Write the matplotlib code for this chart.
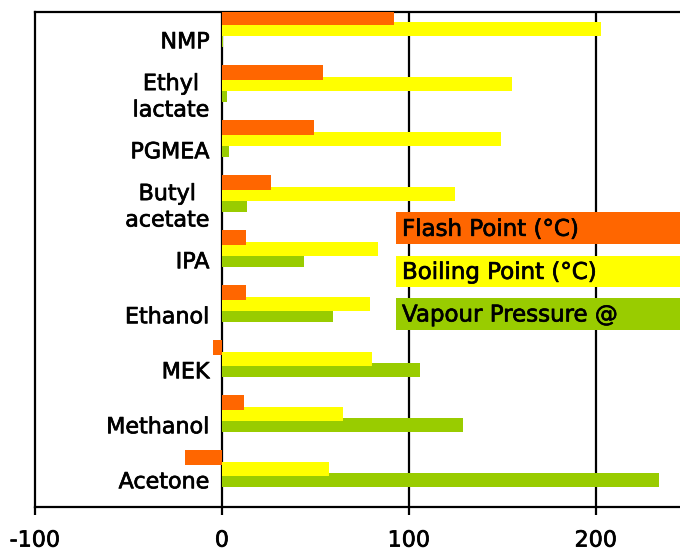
import numpy as np
import matplotlib
matplotlib.use('Agg')
import matplotlib.pyplot as plt
import matplotlib.patheffects as pe
from matplotlib.patches import Rectangle

# categories listed bottom to top (Excel order)
solvents = ['Acetone', 'Methanol', 'MEK', 'Ethanol', 'IPA',
            'Butyl\nacetate', 'PGMEA', 'Ethyl\nlactate', 'NMP']
flash_point = [-20, 12, -5, 13, 13, 26, 49, 54, 92]
boiling_point = [57.5, 65, 80.5, 79, 83.5, 124.5, 149, 155, 202.5]
vapour_pressure = [234, 129, 106, 59.5, 44, 13.5, 3.5, 2.5, 0.4]

series_names = ['Flash Point (\u00b0C)', 'Boiling Point (\u00b0C)', 'Vapour Pressure @']
colors = ['#FF6600', '#FFFF00', '#99CC00']

plt.rcParams['font.family'] = 'DejaVu Sans'
plt.rcParams['axes.unicode_minus'] = False

# slightly heavier strokes, the original font is a bit darker than DejaVu regular
heavy = [pe.withStroke(linewidth=0.5, foreground='black')]

fig = plt.figure(figsize=(6.8, 5.51), dpi=100)
ax = fig.add_axes([35 / 680, 44 / 551, 645 / 680, 495 / 551])

y = np.arange(len(solvents))
h = 0.255
ax.barh(y - 0.01, vapour_pressure, height=h, color=colors[2], zorder=3)
ax.barh(y + 0.19, boiling_point, height=h, color=colors[1], zorder=4)
ax.barh(y + 0.40, flash_point, height=h, color=colors[0], zorder=5)

ax.set_xlim(-100, 245)
ax.set_ylim(-0.5, len(solvents) - 0.5)

for xv in [0, 100, 200]:
    ax.axvline(xv, color='black', lw=1.6, zorder=2)

ax.set_xticks([-100, 0, 100, 200])
ax.set_xticklabels(['-100', '0', '100', '200'], fontsize=16)
for t in ax.get_xticklabels():
    t.set_path_effects(heavy)
ax.tick_params(axis='x', direction='out', length=6, width=1.6, pad=11)
ax.set_yticks([])

for s in ['left', 'top', 'bottom']:
    ax.spines[s].set_linewidth(1.6)
ax.spines['right'].set_visible(False)

# category labels sit next to the zero line, like Excel
for yi, name in zip(y, solvents):
    ax.annotate(name, xy=(0, yi), xytext=(-9, -2), textcoords='offset points',
                ha='right', va='center', multialignment='center',
                fontsize=16, linespacing=1.4, zorder=6, path_effects=heavy)

# legend drawn as colour blocks
box_y = [0.531, 0.444, 0.358]
for name, c, by in zip(series_names, colors, box_y):
    ax.add_patch(Rectangle((0.5597, by), 0.5, 0.064, transform=ax.transAxes,
                           facecolor=c, edgecolor='none', zorder=7, clip_on=False))
    ax.text(0.569, by + 0.030, name, transform=ax.transAxes, ha='left',
            va='center', fontsize=16.5, zorder=8, path_effects=heavy)

fig.savefig('out.png', dpi=100)
